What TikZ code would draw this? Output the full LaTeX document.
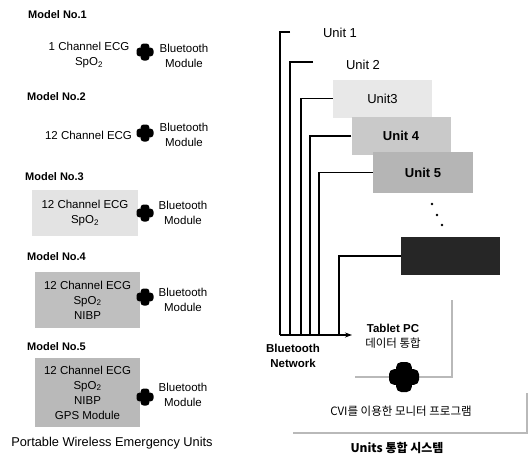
\documentclass[tikz,border=0pt]{standalone}
\usepackage{fontspec}
\setmainfont{Liberation Sans}
\newfontfamily\kr{Noto Sans CJK KR}
\usetikzlibrary{arrows.meta}
\newcommand\fsz{\fontsize{11.5}{15}\selectfont}
\newcommand\drawplus[4]{%
  \node[inner sep=0pt, minimum size=2*#3] (#1) at (#2) {};
  \fill[black, rounded corners=#4] ([xshift=-#3, yshift=-0.52*#3]#1.center) rectangle ([xshift=#3, yshift=0.52*#3]#1.center);
  \fill[black, rounded corners=#4] ([xshift=-0.52*#3, yshift=-#3]#1.center) rectangle ([xshift=0.52*#3, yshift=#3]#1.center);
}
\begin{document}
\begin{tikzpicture}[x=1pt, y=-1pt,
  txt/.style={font=\fsz, align=center, inner sep=0pt},
  model/.style={font=\fontsize{11}{13}\selectfont\bfseries, anchor=west, inner sep=0pt},
  unitlbl/.style={font=\fontsize{13}{15}\selectfont, inner sep=0pt},
  ubox/.style={unitlbl, minimum width=99pt, minimum height=38pt},
  bus/.style={line width=1.1pt, black},
  gline/.style={line width=2.8pt, draw=gray!55}]
\useasboundingbox (0,0) rectangle (530,459);

% ---------- left side ----------
\node[model] (ml1) at (28,15) {Model No.1};
\node[txt] (e1) at (89,55.5) {1 Channel ECG\\SpO\textsubscript{2}};
\drawplus{c1}{145,52}{8.5pt}{3pt}
\node[txt] (bt1) at (184,55.5) {Bluetooth\\Module};

\node[model] (ml2) at (27,97) {Model No.2};
\node[txt] (e2) at (88.5,135) {12 Channel ECG};
\drawplus{c2}{145,133}{8.5pt}{3pt}
\node[txt] (bt2) at (184,135) {Bluetooth\\Module};

\node[model] (ml3) at (25,177) {Model No.3};
\node[txt, fill=gray!22, minimum width=106pt, minimum height=46pt] (e3) at (85,213) {12 Channel ECG\\SpO\textsubscript{2}};
\drawplus{c3}{145,213}{8.5pt}{3pt}
\node[txt] (bt3) at (183,213) {Bluetooth\\Module};

\node[model] (ml4) at (27,257) {Model No.4};
\node[txt, fill=gray!50, minimum width=105pt, minimum height=56pt] (e4) at (87.5,300) {12 Channel ECG\\SpO\textsubscript{2}\\NIBP};
\drawplus{c4}{145,297}{8.5pt}{3pt}
\node[txt] (bt4) at (183,300) {Bluetooth\\Module};

\node[model] (ml5) at (27,347) {Model No.5};
\node[txt, fill=gray!55, minimum width=105pt, minimum height=69pt] (e5) at (87.5,392.5) {12 Channel ECG\\SpO\textsubscript{2}\\NIBP\\GPS Module};
\drawplus{c5}{145,397}{8.5pt}{3pt}
\node[txt] (bt5) at (183,395) {Bluetooth\\Module};

\node[font=\fontsize{12.8}{15}\selectfont, inner sep=0pt] (port) at (112,443) {Portable Wireless Emergency Units};

% ---------- right side ----------
\node[unitlbl] (u1) at (340,33) {Unit 1};
\node[unitlbl] (u2) at (363,65) {Unit 2};
\node[ubox, fill=gray!18] (u3) at (382.5,98.5) {Unit3};
\node[ubox, fill=gray!42] (u4) at (401,136) {\bfseries Unit 4};
\node[ubox, fill=gray!58, minimum width=100pt, minimum height=41pt] (u5) at (423,172.5) {\bfseries Unit 5};
\node[ubox, fill=black!85] (u6) at (450.5,256) {};

\fill (432,204) circle (1.3pt) (437,215) circle (1.3pt) (442,225) circle (1.3pt);

\coordinate (t1) at (290,32);
\coordinate (t2) at (313,62);
\coordinate (b1) at (280,335);
\coordinate (b2) at (290,335);
\coordinate (b3) at (301,335);
\coordinate (b4) at (310,335);
\coordinate (b5) at (319,335);
\coordinate (b6) at (339,335);
\coordinate (bend) at (352,335);

\draw[bus] (t1) -| (b1);
\draw[bus] (t2) -| (b2);
\draw[bus] (u3.west) -| (b3);
\draw[bus] (u4.west) -| (b4);
\draw[bus] (u5.west) -| (b5);
\draw[bus] (u6.west) -| (b6);
\draw[bus, -{Stealth[length=7pt,width=5pt]}] (b1) -- (bend);

\node[txt, font=\fontsize{11.5}{15}\selectfont\bfseries] (btn) at (293,356) {Bluetooth\\Network};
\node[txt] (tab) at (393,336) {\bfseries Tablet PC\\{\kr 데이터 통합}};

\coordinate (g1) at (355,377);
\coordinate (g2) at (452,377);
\coordinate (g3) at (452,300);
\draw[gline] (g1) -- (g2) -- (g3);
\drawplus{cbig}{404,377}{15pt}{5pt}

\node[txt, font=\kr\fontsize{11.5}{14}\selectfont] (cvi) at (401,411) {CVI를 이용한 모니터 프로그램};
\coordinate (h1) at (293,433);
\coordinate (h2) at (527,433);
\coordinate (h3) at (527,393);
\draw[gline] (h1) -- (h2) -- (h3);
\node[txt, font=\kr\fontsize{12}{14}\selectfont\bfseries] (sys) at (397,448) {Units 통합 시스템};
\end{tikzpicture}
\end{document}
